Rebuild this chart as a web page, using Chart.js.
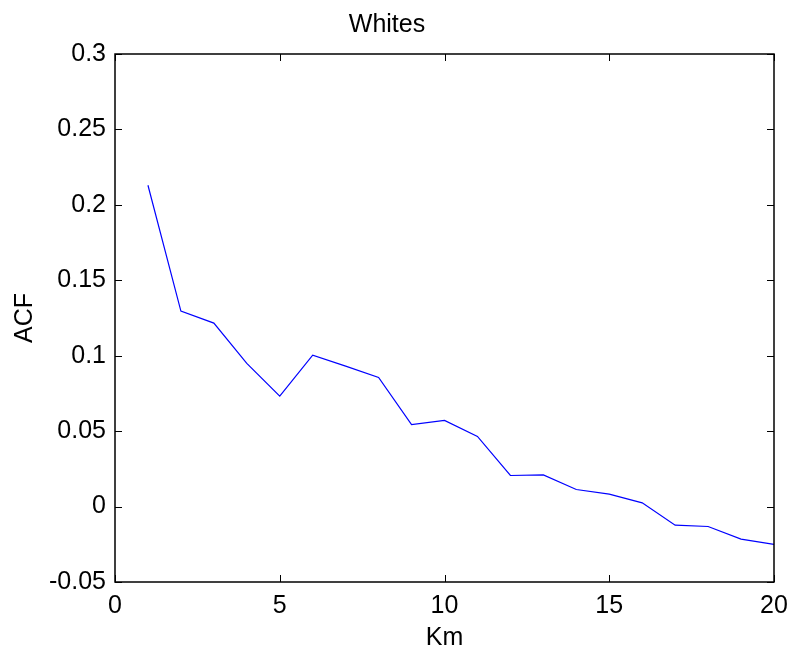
<!DOCTYPE html>
<html>
<head>
<meta charset="utf-8">
<script src="https://cdn.jsdelivr.net/npm/chart.js@4"></script>
<style>
html,body{margin:0;padding:0;background:#fff;}
#wrap{width:792px;height:651px;}
</style>
</head>
<body>
<div id="wrap"><canvas id="c" width="792" height="651"></canvas></div>
<script>
const titleText = "Whites";
const xLabel = "Km";
const yLabel = "ACF";
const lags = [1,2,3,4,5,6,7,8,9,10,11,12,13,14,15,16,17,18,19,20];
const acf = [0.213,0.1296,0.1216,0.0949,0.0732,0.1004,0.0931,0.0856,0.0544,0.0571,0.0465,0.0206,0.0210,0.0113,0.0082,0.0025,-0.0123,-0.0132,-0.0216,-0.0251];
const xTicks = [0,5,10,15,20];
const yTicks = [-0.05,0,0.05,0.1,0.15,0.2,0.25,0.3];
const yTickLabels = ["-0.05","0","0.05","0.1","0.15","0.2","0.25","0.3"];

const FONT = "Liberation Sans, Arial, Helvetica, sans-serif";

const boxTicks = {
  id: 'boxTicks',
  afterDraw(chart) {
    const ctx = chart.ctx;
    const a = chart.chartArea;
    const xs = chart.scales.x, ys = chart.scales.y;
    const L = 7;
    ctx.save();
    ctx.strokeStyle = '#000';
    ctx.lineWidth = 1;
    ctx.beginPath();
    xTicks.forEach(v => {
      const px = Math.round(xs.getPixelForValue(v)) + 0.5;
      ctx.moveTo(px, a.bottom); ctx.lineTo(px, a.bottom - L);
      ctx.moveTo(px, a.top); ctx.lineTo(px, a.top + L);
    });
    yTicks.forEach(v => {
      const py = Math.round(ys.getPixelForValue(v)) + 0.5;
      ctx.moveTo(a.left, py); ctx.lineTo(a.left + L, py);
      ctx.moveTo(a.right, py); ctx.lineTo(a.right - L, py);
    });
    ctx.stroke();
    ctx.lineWidth = 1.5;
    ctx.strokeRect(a.left, a.top, a.right - a.left, a.bottom - a.top);
    ctx.restore();
  }
};

new Chart(document.getElementById('c'), {
  type: 'line',
  data: {
    datasets: [{
      data: lags.map((x, i) => ({x: x, y: acf[i]})),
      borderColor: '#0000ff',
      borderWidth: 1.2,
      pointRadius: 0,
      tension: 0,
      fill: false
    }]
  },
  options: {
    responsive: false,
    animation: false,
    devicePixelRatio: 1,
    layout: { padding: { left: 0, right: 18, top: 0, bottom: 0 } },
    plugins: {
      legend: { display: false },
      tooltip: { enabled: false },
      title: {
        display: true,
        text: titleText,
        color: '#000',
        font: { family: FONT, size: 25, weight: 'normal', lineHeight: 1.2 },
        padding: { top: 10, bottom: 14 }
      }
    },
    scales: {
      x: {
        type: 'linear',
        min: 0, max: 20,
        afterBuildTicks(s) { s.ticks = xTicks.map(v => ({value: v})); },
        afterFit(s) { s.height = 69; s.paddingLeft = 0; s.paddingRight = 0; },
        grid: { display: false, drawTicks: false },
        border: { display: false },
        ticks: {
          color: '#000',
          padding: 9,
          maxRotation: 0,
          font: { family: FONT, size: 25 },
          callback: v => String(v)
        },
        title: {
          display: true, text: xLabel, color: '#000',
          font: { family: FONT, size: 25, lineHeight: 1.2 },
          padding: { top: 0, bottom: -2 }
        }
      },
      y: {
        type: 'linear',
        min: -0.05, max: 0.3,
        afterBuildTicks(s) { s.ticks = yTicks.map(v => ({value: v})); },
        afterFit(s) { s.width = 115; s.paddingTop = 0; s.paddingBottom = 0; },
        grid: { display: false, drawTicks: false },
        border: { display: false },
        ticks: {
          color: '#000',
          padding: 9,
          font: { family: FONT, size: 25 },
          callback: (v) => {
            const i = yTicks.findIndex(t => Math.abs(t - v) < 1e-9);
            return i >= 0 ? yTickLabels[i] : '';
          }
        },
        title: {
          display: true, text: yLabel, color: '#000',
          font: { family: FONT, size: 25, lineHeight: 1.2 },
          padding: { top: 10, bottom: 0 }
        }
      }
    }
  },
  plugins: [boxTicks]
});
</script>
</body>
</html>
